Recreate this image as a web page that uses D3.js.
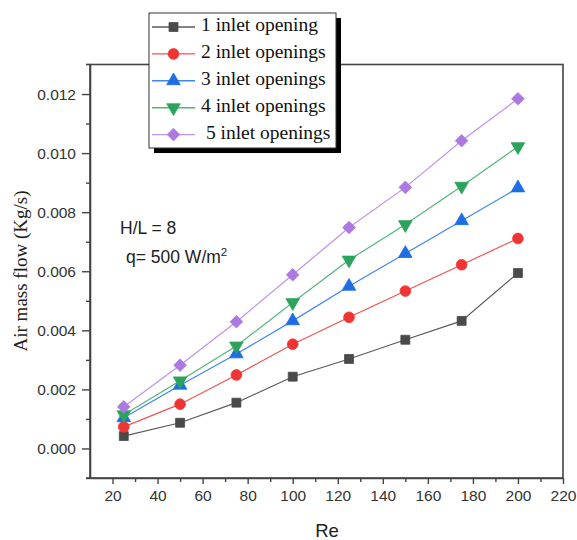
<!DOCTYPE html>
<html>
<head>
<meta charset="utf-8">
<script src="https://cdn.jsdelivr.net/npm/d3@7"></script>
<style>
	body { margin: 0; background: #fff; }
</style>
</head>
<body>
<svg id="chart" width="577" height="540"></svg>
<script>
// data
const re = [25, 50, 75, 100, 125, 150, 175, 200];
const seriesNames = ["1 inlet opening", "2 inlet openings", "3 inlet openings", "4 inlet openings", " 5 inlet openings"];
const flow1 = [0.00042, 0.00087, 0.00155, 0.00243, 0.00303, 0.00368, 0.00432, 0.00594];
const flow2 = [0.00073, 0.00150, 0.00249, 0.00353, 0.00444, 0.00533, 0.00622, 0.00711];
const flow3 = [0.00104, 0.00214, 0.00320, 0.00432, 0.00549, 0.00660, 0.00771, 0.00882];
const flow4 = [0.00114, 0.00229, 0.00347, 0.00494, 0.00638, 0.00758, 0.00888, 0.01022];
const flow5 = [0.00141, 0.00282, 0.00429, 0.00588, 0.00748, 0.00884, 0.01042, 0.01184];
const xTicks = [20, 40, 60, 80, 100, 120, 140, 160, 180, 200, 220];
const yTicks = [0, 0.002, 0.004, 0.006, 0.008, 0.010, 0.012];

// square turned 45 degrees, wider than d3's own diamond
const symbolRhomb = {
	draw(context, size) {
		const r = Math.sqrt(size / 2);
		context.moveTo(0, -r);
		context.lineTo(r, 0);
		context.lineTo(0, r);
		context.lineTo(-r, 0);
		context.closePath();
	}
};

const styles = [
	{ line: "#5a5a5a", fill: "#4a4a4a", shape: d3.symbolSquare, size: 80 },
	{ line: "#f25252", fill: "#f03434", shape: d3.symbolCircle, size: 90 },
	{ line: "#3f86ec", fill: "#1c6ee2", shape: d3.symbolTriangle, size: 80 },
	{ line: "#52b677", fill: "#2ca35c", shape: d3.symbolTriangle, size: 80, flip: true },
	{ line: "#be92ee", fill: "#ad78e2", shape: symbolRhomb, size: 80 }
];
const allFlows = [flow1, flow2, flow3, flow4, flow5];

var margin = { top: 64.5, right: 14, bottom: 62, left: 90 },
	width = 577 - margin.left - margin.right,
	height = 540 - margin.top - margin.bottom;

const svg = d3.select("#chart");
const g = svg.append("g")
	.attr("transform", `translate(${margin.left}, ${margin.top})`);

const x = d3.scaleLinear().domain([10, 220]).range([0, width]);
const y = d3.scaleLinear().domain([-0.001, 0.013]).range([height, 0]);

// frame
g.append("rect")
	.attr("x", 0).attr("y", 0)
	.attr("width", width).attr("height", height)
	.attr("fill", "none")
	.attr("stroke", "#444")
	.attr("stroke-width", 1.6);
// little overhang of the frame on the left
g.append("line").attr("x1", -4).attr("x2", 0).attr("y1", 0).attr("y2", 0).attr("stroke", "#444").attr("stroke-width", 1.6);
g.append("line").attr("x1", -4).attr("x2", 0).attr("y1", height).attr("y2", height).attr("stroke", "#444").attr("stroke-width", 1.6);

// X axis
g.append("g")
	.attr("transform", "translate(0," + height + ")")
	.call(d3.axisBottom(x).tickValues(xTicks).tickSize(6).tickSizeOuter(0).tickPadding(6).tickFormat(d3.format("d")));
g.append("g")
	.attr("transform", "translate(0," + height + ")")
	.call(d3.axisBottom(x).tickValues(d3.range(30, 220, 20)).tickSize(4).tickSizeOuter(0).tickFormat(""))
	.select(".domain").remove();

// Y axis
g.append("g")
	.call(d3.axisLeft(y).tickValues(yTicks).tickSize(8).tickSizeOuter(0).tickPadding(6).tickFormat(d3.format(".3f")));
g.append("g")
	.call(d3.axisLeft(y).tickValues([-0.001, 0.001, 0.003, 0.005, 0.007, 0.009, 0.011]).tickSize(4).tickSizeOuter(0).tickFormat(""))
	.select(".domain").remove();

g.selectAll(".domain").attr("stroke", "#444").attr("stroke-width", 1.6);
g.selectAll(".tick line").attr("stroke", "#444").attr("stroke-width", 1.4);
g.selectAll(".tick text")
	.attr("fill", "#333")
	.style("font-family", "'Liberation Sans', Arial, sans-serif")
	.style("font-size", "15.5px");

// axis titles
svg.append("text")
	.attr("x", 327)
	.attr("y", 532)
	.attr("text-anchor", "middle")
	.attr("dominant-baseline", "middle")
	.style("font-family", "'Liberation Sans', Arial, sans-serif")
	.style("font-size", "18.5px")
	.attr("fill", "#222")
	.text("Re");

svg.append("text")
	.attr("transform", "translate(23, 271) rotate(-90)")
	.attr("text-anchor", "middle")
	.attr("dominant-baseline", "middle")
	.style("font-family", "'Liberation Serif', 'Times New Roman', serif")
	.style("font-size", "19px")
	.attr("fill", "#222")
	.text("Air mass flow (Kg/s)");

// annotation
g.append("text")
	.attr("x", 30).attr("y", 169)
	.style("font-family", "'Liberation Sans', Arial, sans-serif")
	.style("font-size", "17.5px")
	.attr("fill", "#222")
	.text("H/L = 8");
const q = g.append("text")
	.attr("x", 36).attr("y", 198)
	.style("font-family", "'Liberation Sans', Arial, sans-serif")
	.style("font-size", "17.5px")
	.attr("fill", "#222");
q.append("tspan").text("q= 500 W/m");
q.append("tspan").attr("dy", -7).style("font-size", "11.5px").text("2");

// series
const lineGen = d3.line()
	.x((d, i) => x(re[i]))
	.y(d => y(d));

function marker(sel, st) {
	sel.attr("d", d3.symbol().type(st.shape).size(st.size))
		.attr("fill", st.fill)
		.attr("stroke", st.fill)
		.attr("stroke-width", 0.8);
}

allFlows.forEach((vals, k) => {
	const st = styles[k];
	g.append("path")
		.datum(vals)
		.attr("fill", "none")
		.attr("stroke", st.line)
		.attr("stroke-width", 1.2)
		.attr("d", lineGen);
	g.append("g")
		.selectAll("path")
		.data(vals)
		.join("path")
		.attr("transform", (d, i) => `translate(${x(re[i])},${y(d)})` + (st.flip ? " rotate(180)" : ""))
		.call(marker, st);
});

// legend with drop shadow
const lg = svg.append("g").attr("transform", "translate(149, 13)");
const lw = 187, lh = 135;
lg.append("rect")
	.attr("x", 5).attr("y", 5)
	.attr("width", lw).attr("height", lh)
	.attr("fill", "#000");
lg.append("rect")
	.attr("x", 0).attr("y", 0)
	.attr("width", lw).attr("height", lh)
	.attr("fill", "#fff")
	.attr("stroke", "#333")
	.attr("stroke-width", 1);

seriesNames.forEach((name, k) => {
	const st = styles[k];
	const ry = 14 + k * 26.9;
	lg.append("line")
		.attr("x1", 3).attr("x2", 46)
		.attr("y1", ry).attr("y2", ry)
		.attr("stroke", st.line)
		.attr("stroke-width", 1.4);
	lg.append("path")
		.attr("transform", `translate(24.5,${ry})` + (st.flip ? " rotate(180)" : ""))
		.call(marker, st);
	lg.append("text")
		.attr("x", 52)
		.attr("y", ry)
		.attr("dominant-baseline", "middle")
		.attr("xml:space", "preserve")
		.style("white-space", "pre")
		.style("font-family", "'Liberation Serif', 'Times New Roman', serif")
		.style("font-size", "19.5px")
		.attr("fill", "#111")
		.text(name);
});
</script>
</body>
</html>
